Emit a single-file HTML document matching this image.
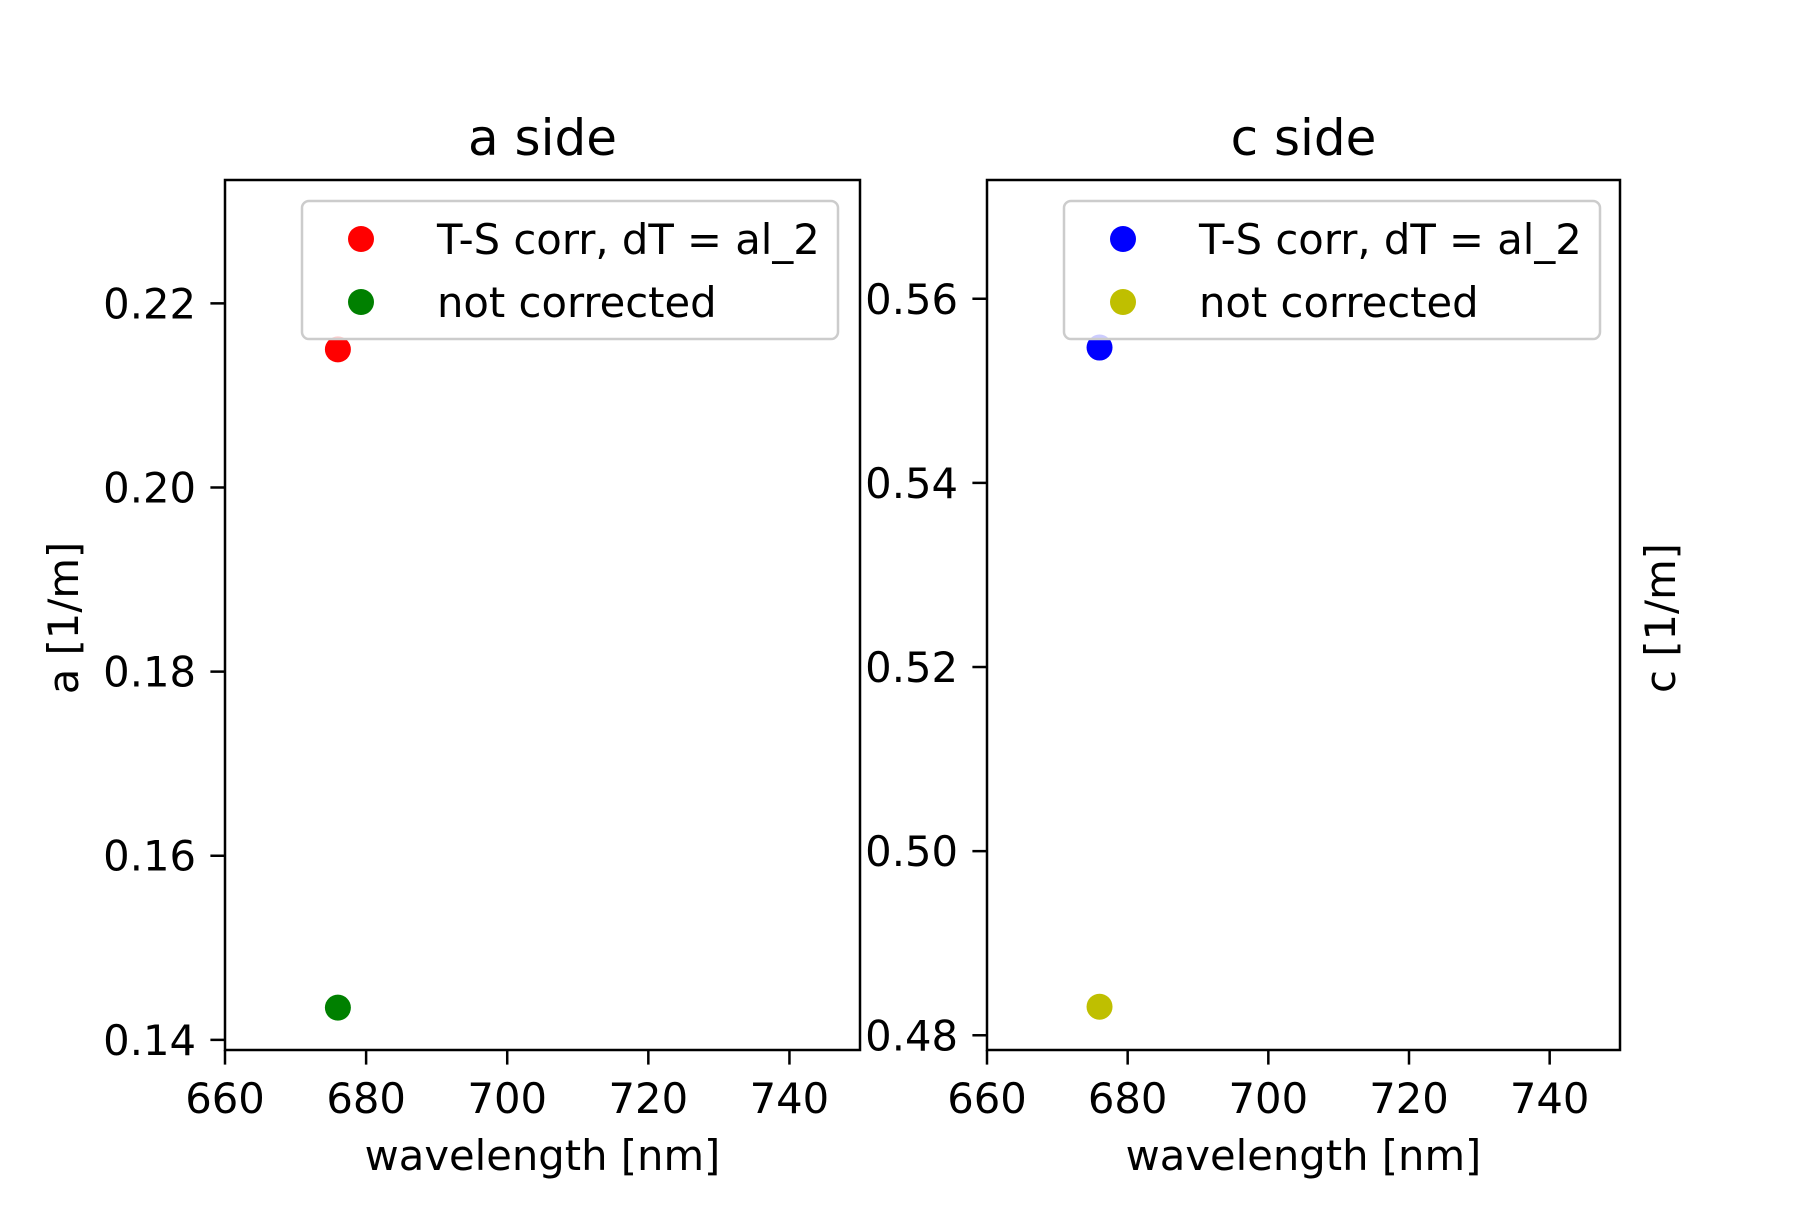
<!DOCTYPE html>
<html><head><meta charset="utf-8"><style>
html,body{margin:0;padding:0;background:#fff}
svg text{font-family:"DejaVu Sans","Liberation Sans",sans-serif;fill:#000}
</style></head><body>
<svg id="chart" width="1800" height="1200" viewBox="0 0 1800 1200" xmlns="http://www.w3.org/2000/svg">
<rect width="1800" height="1200" fill="#fff"/>
</svg>
<script>
const xTicks=[660,680,700,720,740];
const aTicks=[0.14,0.16,0.18,0.20,0.22];
const cTicks=[0.48,0.50,0.52,0.54,0.56];
const wavelength=[676];
const aCorr=[0.215];
const aNot=[0.1435];
const cCorr=[0.5547];
const cNot=[0.4831];
const svg=document.getElementById('chart');
const NS='http://www.w3.org/2000/svg';
function mk(tag,attrs,txt){const e=document.createElementNS(NS,tag);for(const k in attrs)e.setAttribute(k,attrs[k]);if(txt!==undefined)e.textContent=txt;svg.appendChild(e);return e;}
function panel(p){
  const sx=v=>p.x0+(v-660)/(750-660)*(p.x1-p.x0);
  const sy=v=>p.y1-(v-p.ymin)/(p.ymax-p.ymin)*(p.y1-p.y0);
  p.series.forEach(s=>{
    s.vals.forEach((v,i)=>{
      const c=mk('circle',{cx:sx(wavelength[i]),cy:sy(v),r:13,fill:s.color});
      
      
    });
  });
  const fr=mk('rect',{x:p.x0,y:p.y0,width:p.x1-p.x0,height:p.y1-p.y0,fill:'none',stroke:'#000','stroke-width':2.5});
  
  
  xTicks.forEach(t=>{
    const x=sx(t);
    mk('line',{x1:x,x2:x,y1:p.y1,y2:p.y1+14.6,stroke:'#000','stroke-width':2.5});
    const tl=mk('text',{x:x,y:p.y1+63,'font-size':41.7,'text-anchor':'middle'},String(t));
    
    
  });
  p.yticks.forEach(t=>{
    const y=sy(t);
    mk('line',{x1:p.x0-14.6,x2:p.x0,y1:y,y2:y,stroke:'#000','stroke-width':2.5});
    const tl=mk('text',{x:p.x0-29,y:y+15,'font-size':41.7,'text-anchor':'end'},t.toFixed(2));
    
    
  });
  const ti=mk('text',{x:(p.x0+p.x1)/2,y:155,'font-size':50,'text-anchor':'middle'},p.title);
  
  
  const xl=mk('text',{x:(p.x0+p.x1)/2,y:1170,'font-size':41.7,'text-anchor':'middle'},'wavelength [nm]');
  
  
  const yl=mk('text',{x:0,y:0,'font-size':41.7,'text-anchor':'middle',transform:`translate(${p.ylx},618) rotate(-90)`},p.ylabel);
  
  
  const lx=p.x0+77, lw=536;
  const lg=mk('rect',{x:lx,y:201,width:lw,height:138,rx:7,fill:'#fff','fill-opacity':0.8,stroke:'#ccc','stroke-width':2.5});
  
  
  p.series.forEach((s,i)=>{
    const y=i?302:239;
    const m=mk('circle',{cx:lx+59,cy:y,r:13,fill:s.color});
    
    
    const t=mk('text',{x:lx+135,y:y+15,'font-size':41.7},s.label);
    
    
  });
}
panel({id:'a-side',x0:225,x1:860,y0:180,y1:1050,ymin:0.1389,ymax:0.2334,yticks:aTicks,title:'a side',ylabel:'a [1/m]',ylx:78,
  series:[{name:'a-corrected',color:'#ff0000',vals:aCorr,label:'T-S corr, dT = al_2'},{name:'a-not-corrected',color:'#008000',vals:aNot,label:'not corrected'}]});
panel({id:'c-side',x0:987,x1:1620,y0:180,y1:1050,ymin:0.4784,ymax:0.5729,yticks:cTicks,title:'c side',ylabel:'c [1/m]',ylx:1675,
  series:[{name:'c-corrected',color:'#0000ff',vals:cCorr,label:'T-S corr, dT = al_2'},{name:'c-not-corrected',color:'#bfbf00',vals:cNot,label:'not corrected'}]});
</script>
</body></html>
